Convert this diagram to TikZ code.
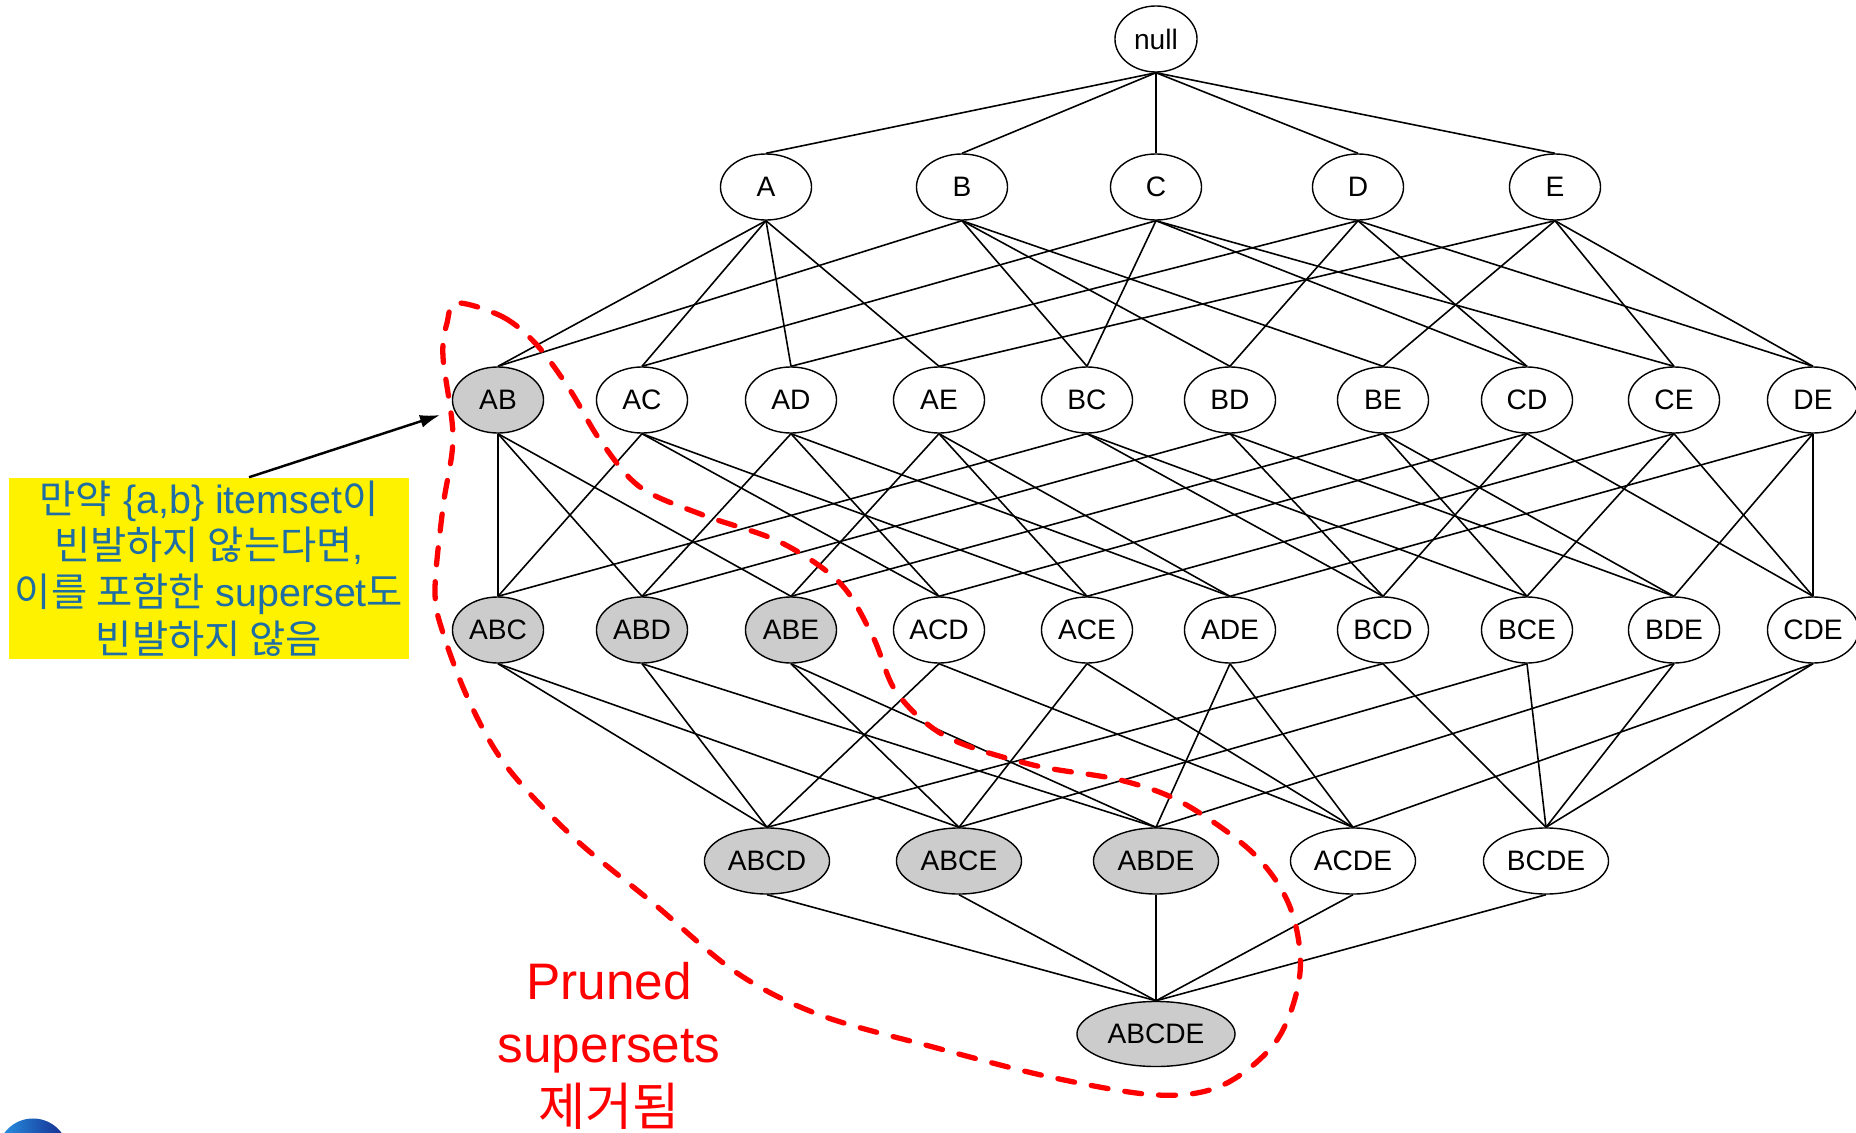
\documentclass[tikz,border=0pt]{standalone}
\usepackage{fontspec}
\setmainfont{Liberation Sans}
\newfontfamily\kr{Noto Sans CJK KR}
\usetikzlibrary{shapes.geometric,arrows.meta}

\definecolor{notetext}{RGB}{30,110,165}
\definecolor{prunedgray}{RGB}{204,204,204}

\tikzset{
    set/.style={draw, ellipse, line width=0.4pt, fill=white, inner sep=0pt,
        minimum width=0.91cm, minimum height=0.66cm, font=\fontsize{8}{9}\selectfont},
    gone/.style={set, fill=prunedgray},
    edge/.style={line width=0.45pt},
    note/.style={fill=yellow, inner sep=0pt, minimum width=4cm, minimum height=1.81cm,
        align=center, text=notetext, font=\fontsize{11.2}{13.3}\selectfont},
    pointer/.style={line width=0.7pt, -{Latex[length=0.2cm,width=0.13cm]}},
    cutline/.style={red, line width=1.5pt, line cap=round, dash pattern=on 0.17cm off 0.17cm},
}

\begin{document}
\begin{tikzpicture}[x=0.01cm,y=-0.01cm]
    \useasboundingbox (0,0) rectangle (1856,1133);

    % corner logo, mostly off the page
    \begin{scope}
        \clip (0,0) rectangle (1856,1133);
        \shade[left color={rgb,255:red,40;green,150;blue,230}, right color={rgb,255:red,20;green,40;blue,140}]
            (33,1154) circle (0.355cm);
    \end{scope}

    % the lattice, one row per itemset size
    \node[set, minimum width=0.82cm] (null) at (1156,39) {null};
    \foreach \n/\x in {A/766,B/962,C/1156,D/1358,E/1555}
        \node[set] (\n) at (\x,187) {\n};
    \node[gone] (AB) at (498,400) {AB};
    \foreach \n/\x in {AC/642,AD/791,AE/939,BC/1087,BD/1230,BE/1383,CD/1527,CE/1674,DE/1813}
        \node[set] (\n) at (\x,400) {\n};
    \foreach \n/\x in {ABC/498,ABD/642,ABE/791}
        \node[gone] (\n) at (\x,630) {\n};
    \foreach \n/\x in {ACD/939,ACE/1087,ADE/1230,BCD/1383,BCE/1527,BDE/1674,CDE/1813}
        \node[set] (\n) at (\x,630) {\n};
    \foreach \n/\x in {ABCD/767,ABCE/959,ABDE/1156}
        \node[gone, minimum width=1.25cm] (\n) at (\x,861) {\n};
    \foreach \n/\x in {ACDE/1353,BCDE/1546}
        \node[set, minimum width=1.25cm] (\n) at (\x,861) {\n};
    \node[gone, minimum width=1.58cm, minimum height=0.65cm] (ABCDE) at (1156,1034) {ABCDE};

    % subset edges
    \foreach \n in {A,B,C,D,E}
        \draw[edge] (null.south) -- (\n.north);
    \foreach \c/\ps in {AB/{A,B},AC/{A,C},AD/{A,D},AE/{A,E},BC/{B,C},BD/{B,D},BE/{B,E},
            CD/{C,D},CE/{C,E},DE/{D,E},
            ABC/{AB,AC,BC},ABD/{AB,AD,BD},ABE/{AB,AE,BE},ACD/{AC,AD,CD},ACE/{AC,AE,CE},
            ADE/{AD,AE,DE},BCD/{BC,BD,CD},BCE/{BC,BE,CE},BDE/{BD,BE,DE},CDE/{CD,CE,DE},
            ABCD/{ABC,ABD,ACD,BCD},ABCE/{ABC,ABE,ACE,BCE},ABDE/{ABD,ABE,ADE,BDE},
            ACDE/{ACD,ACE,ADE,CDE},BCDE/{BCD,BCE,BDE,CDE},
            ABCDE/{ABCD,ABCE,ABDE,ACDE,BCDE}} {
        \foreach \p in \ps
            \draw[edge] (\p.south) -- (\c.north);
    }

    % note and its arrow
    \node[note] (note) at (209,568.5)
        {{\kr 만약} \{a,b\} itemset{\kr 이}\\
         {\kr 빈발하지 않는다면},\\
         {\kr 이를 포함한} superset{\kr 도}\\
         {\kr 빈발하지 않음}};
    \coordinate (tip) at (440,415);
    \draw[pointer] ([xshift=0.4cm]note.north) -- (tip);

    % pruned region
    \draw[cutline] plot[smooth cycle, tension=0.55] coordinates {
        (457,303) (503,317) (537,345) (570,390) (600,440) (640,487) (703,515)
        (780,542) (840,583) (873,637) (897,693) (947,737) (1033,765) (1120,780)
        (1183,803) (1253,853) (1290,907) (1300,973) (1277,1040) (1223,1085)
        (1157,1095) (1050,1077) (933,1047) (820,1015) (737,973) (653,903)
        (573,837) (507,767) (470,703) (443,633) (435,590) (443,507) (453,437)
        (443,357) (447,323)};
    \node[text=red, inner sep=0pt, align=center, font=\fontsize{14.6}{17.9}\selectfont]
        (label) at (609,1046) {Pruned\\supersets\\{\kr 제거됨}};
\end{tikzpicture}
\end{document}
